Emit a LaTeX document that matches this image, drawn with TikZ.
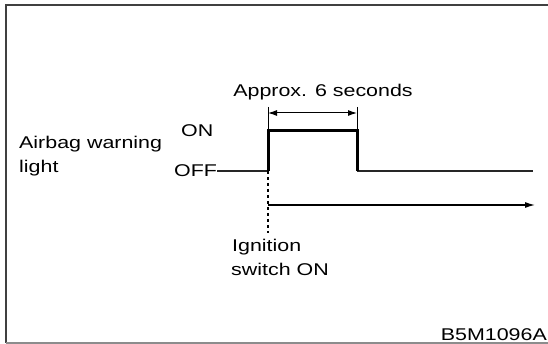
\documentclass[tikz,border=0pt]{standalone}
\usepackage{fontspec}
\setmainfont{Liberation Sans}[FakeStretch=1.26]
\usetikzlibrary{arrows.meta}
\begin{document}
\begin{tikzpicture}[x=1pt,y=-1pt,
  lbl/.style={inner sep=0pt,font=\fontsize{17}{20}\selectfont},
  thin line/.style={line width=1.5pt,black!85},
  pulse/.style={line width=3pt,black,line join=miter},
  dimline/.style={line width=1pt,black},
  tick/.style={line width=1pt,black}]
\useasboundingbox (0,0) rectangle (548,344);
% frame
\draw[line width=2pt,black!75] (548,5) -- (6,5) -- (6,343);
\draw[line width=1.5pt,black!45] (6,343) -- (548,343);
% labels
\node[lbl,anchor=base west] (airbag) at (19,149) {Airbag warning};
\node[lbl,anchor=base west] (light) at (19,173) {light};
\node[lbl,anchor=base west] (on) at (181,137) {ON};
\node[lbl,anchor=base west] (off) at (174,177) {OFF};
\node[lbl,anchor=base] (approx) at (323,97) {Approx. 6 seconds};
\node[lbl,anchor=base west] (ign) at (232,252) {Ignition};
\node[lbl,anchor=base west] (sw) at (231,276) {switch ON};
\node[lbl,anchor=base east] (code) at (547,340) {B5M1096A};
% key points
\coordinate (offstart) at (217,171);
\coordinate (rise0) at (268,171);
\coordinate (rise1) at (268,131);
\coordinate (fall1) at (357,131);
\coordinate (fall0) at (357,171);
\coordinate (offend) at (533,171);
\coordinate (t1) at (268,107);
\coordinate (t2) at (357,107);
\coordinate (d1) at (268,113);
\coordinate (d2) at (357,113);
\coordinate (dashend) at (268,233);
\coordinate (tstart) at (268,205);
\coordinate (tend) at (535,205);
% signal
\draw[thin line] (offstart) -- (rise0);
\draw[thin line] (fall0) -- (offend);
\draw[pulse] (rise0) -- (rise1) -- (fall1) -- (fall0);
% dimension
\draw[tick] (t1) -- (rise1);
\draw[tick] (t2) -- (fall1);
\draw[dimline,{Latex[length=9pt,width=6pt]}-{Latex[length=9pt,width=6pt]}] (d1) -- (d2);
% dashed
\draw[line width=1.2pt,dash pattern=on 3pt off 3pt] (rise0) -- (dashend);
% time arrow
\draw[line width=1.2pt,-{Latex[length=10pt,width=6pt]}] (tstart) -- (tend);
\end{tikzpicture}
\end{document}
